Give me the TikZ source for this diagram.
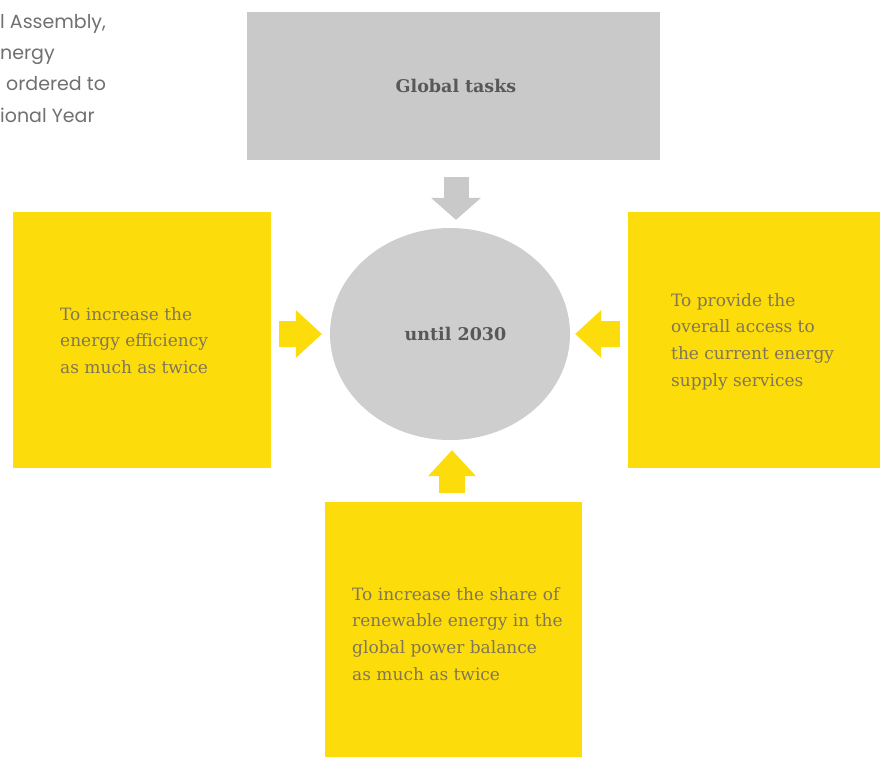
\documentclass[tikz,border=0pt]{standalone}
\usepackage{fontspec}
\setmainfont{DejaVu Serif}
\newfontfamily\introfont{Poppins}
\usetikzlibrary{positioning,shapes.geometric,arrows.meta}
\definecolor{goalYellow}{RGB}{253,220,12}
\definecolor{taskGray}{RGB}{201,201,201}
\definecolor{blobGray}{RGB}{206,206,206}
\definecolor{labelGray}{RGB}{88,88,88}
\definecolor{goalInk}{RGB}{128,118,88}
\definecolor{introInk}{RGB}{112,112,112}
\tikzset{
  task/.style={rectangle, fill=taskGray, inner sep=0pt, text=labelGray, font={\bfseries\fontsize{17.5}{20}\selectfont}},
  goal/.style={rectangle, fill=goalYellow, inner sep=0pt},
  goalText/.style={anchor=north west, inner sep=0pt, align=left, text=goalInk, font={\fontsize{17}{26.7}\selectfont}},
  pushGray/.style={draw=taskGray, line width=25pt, -{Triangle[width=50pt,length=22pt,line width=0pt]}},
  pushYellow/.style={draw=goalYellow, line width=26pt, -{Triangle[width=48pt,length=26pt,line width=0pt]}}
}

\begin{document}
\begin{tikzpicture}[x=1pt, y=-1pt]
      \useasboundingbox (0,0) rectangle (880,756);

      % text cut at the page edge
      \node[anchor=north west, inner sep=0pt, align=left, text=introInk,
            font={\introfont\fontsize{19}{31.3}\selectfont}] (intro) at (0,14)
            {l Assembly,\\nergy\\\hspace*{6pt}ordered to\\ional Year};

      \node[task, minimum width=413pt, minimum height=148pt, text width=413pt, align=center,
            xshift=0pt] (tasks) at (453.5,86) {\hspace*{5pt}Global tasks};

      \node[ellipse, fill=blobGray, inner sep=0pt, minimum width=240pt, minimum height=212pt,
            text=labelGray, font={\bfseries\fontsize{17.5}{20}\selectfont}] (target) at (450,334)
            {\hspace*{11pt}until 2030};

      \node[goal, minimum width=258pt, minimum height=256pt] (efficiency) at (142,340) {};
      \node[goal, minimum width=262pt, minimum height=256pt] (access) at (759,340) {};
      \node[goal, minimum width=257pt, minimum height=268pt] (share) at (453.5,636) {};

      \node[goalText] (efficiencyText) at (60,307)
            {To increase the\\energy efficiency\\as much as twice};
      \node[goalText] (accessText) at (671,293)
            {To provide the\\overall access to\\the current energy\\supply services};
      \node[goalText] (shareText) at (352,587)
            {To increase the share of\\renewable energy in the\\global power balance\\as much as twice};

      \draw[pushGray, shorten <=17pt, shorten >=8pt] ([xshift=6pt]tasks.south -| target.north) -- ([xshift=6pt]target.north);
      \draw[pushYellow, shorten <=8pt, shorten >=8pt] (efficiency.east |- target.west) -- (target.west);
      \draw[pushYellow, shorten <=8pt, shorten >=5pt] (access.west |- target.east) -- (target.east);
      \draw[pushYellow, shorten <=9pt, shorten >=10pt] ([xshift=2pt]share.north -| target.south) -- ([xshift=2pt]target.south);

\end{tikzpicture}
\end{document}
